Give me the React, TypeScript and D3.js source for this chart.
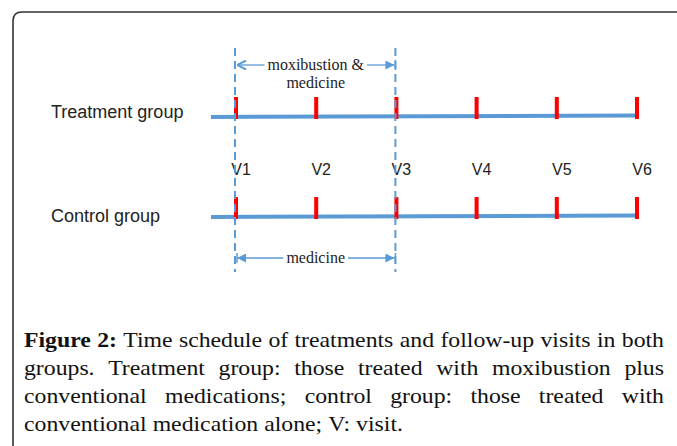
import React, { useMemo } from "react";
import * as d3 from "d3";

const visits = ["V1", "V2", "V3", "V4", "V5", "V6"];
const groups = ["Treatment group", "Control group"];
const periodGroups = ["Treatment group", "Control group"];
const periodLabels = [["moxibustion &", "medicine"], ["medicine"]];
const periodFrom = ["V1", "V1"];
const periodTo = ["V3", "V3"];
const captionLines: { t: string; b?: boolean }[][] = [
  [{ t: "Figure", b: true }, { t: "2:", b: true }, ..."Time schedule of treatments and follow-up visits in both".split(" ").map((t) => ({ t }))],
  "groups. Treatment group: those treated with moxibustion plus".split(" ").map((t) => ({ t })),
  "conventional medications; control group: those treated with".split(" ").map((t) => ({ t })),
  "conventional medication alone; V: visit.".split(" ").map((t) => ({ t })),
];

const W = 677, H = 446;
const BLUE = "#5b9bd5";
const RED = "#ff0000";
const SERIF = "'Liberation Serif', 'Times New Roman', serif";
const SANS = "'Liberation Sans', Arial, sans-serif";
const CAP_SIZE = 22;
const CAP_SX = 1.08;

function measure(text: string, font: string) {
  const c = document.createElement("canvas").getContext("2d")!;
  c.font = font;
  return c.measureText(text).width;
}

export default function App() {
  const x = d3.scalePoint<string>().domain(visits).range([236, 637]);
  const y = d3.scalePoint<string>().domain(groups).range([117, 217]);
  const capY = d3.scaleLinear().domain([0, 3]).range([347, 431]);
  const capLeft = 24, capRight = 664;

  const caption = useMemo(() => {
    return captionLines.map((words, li) => {
      const ws = words.map((w) => CAP_SX * measure(w.t, `${w.b ? "bold " : ""}${CAP_SIZE}px ${SERIF}`));
      const total = ws.reduce((a, b) => a + b, 0);
      const justify = li < captionLines.length - 1;
      const gap = justify ? (capRight - capLeft - total) / (words.length - 1) : CAP_SX * measure(" ", `${CAP_SIZE}px ${SERIF}`);
      let cx = capLeft;
      return words.map((w, i) => {
        const pos = cx;
        cx += ws[i] + gap;
        return { ...w, x: pos };
      });
    });
  }, []);

  const dashTop = 48, dashBottom = 272;
  const lineStart = (x("V1") as number) - 25;
  const lineEnd = x("V6") as number;

  return (
    <div style={{ position: "fixed", left: 0, top: 0, width: W, height: H, background: "#fff" }}>
      <svg width={W} height={H} style={{ display: "block" }}>
        <defs>
          <marker id="arrFill" viewBox="0 0 10 10" refX="10" refY="5" markerWidth="9" markerHeight="9" markerUnits="userSpaceOnUse" orient="auto">
            <path d="M0,0 L10,5 L0,10 Z" fill={BLUE} />
          </marker>
          <marker id="arrOpen" viewBox="0 0 10 10" refX="10" refY="5" markerWidth="10" markerHeight="10" markerUnits="userSpaceOnUse" orient="auto">
            <path d="M1,0.5 L10,5 L1,9.5" fill="none" stroke={BLUE} strokeWidth="2" />
          </marker>
        </defs>
        {/* frame */}
        <path d={`M13,${H + 5} L13,21 Q13,12 22,12 L${W + 5},12`} fill="none" stroke="#333" strokeWidth={1.6} />

        {/* timeline baselines */}
        {groups.map((g) => (
          <line key={g} x1={lineStart} x2={lineEnd} y1={y(g)} y2={(y(g) as number) - 1.5} stroke={BLUE} strokeWidth={4} />
        ))}
        {/* visit ticks */}
        {groups.map((g) =>
          visits.map((v) => (
            <rect key={g + v} x={(x(v) as number) - 2} y={(y(g) as number) - 20} width={4} height={22} fill={RED} />
          ))
        )}
        {/* group labels */}
        {groups.map((g, i) => (
          <text key={g} x={51} y={(y(g) as number) + (i === 0 ? 1 : 5)} fontFamily={SANS} fontSize={18} fill="#222">
            {g}
          </text>
        ))}
        {/* visit labels */}
        {visits.map((v) => (
          <text key={v} x={(x(v) as number) + 5} y={175} textAnchor="middle" fontFamily={SANS} fontSize={16} fill="#222">
            {v}
          </text>
        ))}
        {/* dashed period boundaries */}
        {[periodFrom[0], periodTo[0]].map((v) => (
          <line key={v} x1={(x(v) as number) - 1} x2={(x(v) as number) - 1} y1={dashTop} y2={dashBottom} stroke={BLUE} strokeWidth={2} strokeDasharray="8 5" />
        ))}
        {/* period arrows */}
        {periodGroups.map((g, i) => {
          const x0 = (x(periodFrom[i]) as number) + 1;
          const x1 = (x(periodTo[i]) as number) - 2;
          const ay = i === 0 ? (y(g) as number) - 52 : (y(g) as number) + 41;
          const mid = (x0 + x1) / 2;
          const lbl = periodLabels[i];
          const tw = measure(lbl[0], `16px ${SERIF}`);
          return (
            <g key={g}>
              <line x1={mid - tw / 2 - 3} x2={x0} y1={ay} y2={ay} stroke={BLUE} strokeWidth={1.3} markerEnd={i === 0 ? "url(#arrOpen)" : "url(#arrFill)"} />
              <line x1={mid + tw / 2 + 3} x2={x1} y1={ay} y2={ay} stroke={BLUE} strokeWidth={1.3} markerEnd="url(#arrFill)" />
              {i === 1 && <line x1={x0} x2={x0} y1={ay - 5} y2={ay + 5} stroke={BLUE} strokeWidth={1.5} />}
              <line x1={x1 + 1} x2={x1 + 1} y1={ay - 5} y2={ay + 5} stroke={BLUE} strokeWidth={1.5} />
              {lbl.map((t, k) => (
                <text key={k} x={mid} y={ay + 5 + k * 18} textAnchor="middle" fontFamily={SERIF} fontSize={16} fill="#222">
                  {t}
                </text>
              ))}
            </g>
          );
        })}
        {/* caption */}
        {caption.map((words, li) => (
          <text key={li} y={capY(li)} fontFamily={SERIF} fontSize={CAP_SIZE} fill="#111" transform={`scale(${CAP_SX},1)`}>
            {words.map((w, i) => (
              <tspan key={i} x={w.x / CAP_SX} fontWeight={w.b ? "bold" : "normal"}>
                {w.t}
              </tspan>
            ))}
          </text>
        ))}
      </svg>
    </div>
  );
}
